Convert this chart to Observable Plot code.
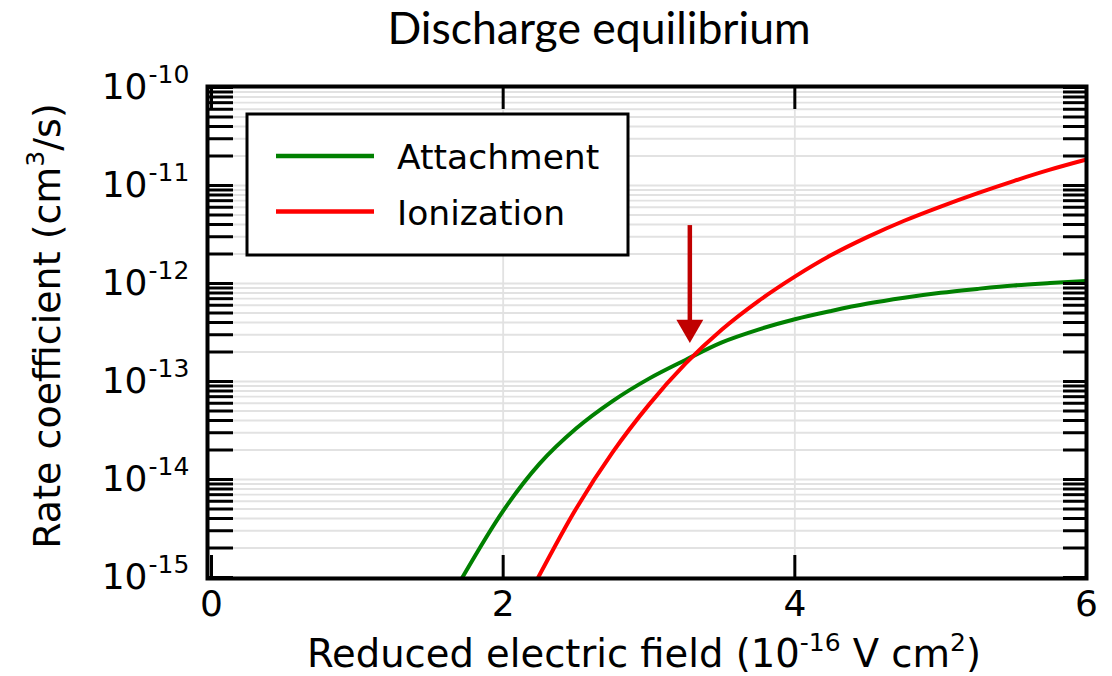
<!DOCTYPE html>
<html>
<head>
<meta charset="utf-8">
<script src="https://cdn.jsdelivr.net/npm/d3@7"></script>
<script src="https://cdn.jsdelivr.net/npm/@observablehq/plot@0.6"></script>
<style>
  html, body { margin: 0; padding: 0; background: #fff; }
  #chart { position: relative; width: 1112px; height: 676px; overflow: hidden; }
  #title {
    position: absolute; left: 0; top: 0; width: 1112px; height: 56px;
    box-sizing: border-box; padding-left: 86px; text-align: center;
    font-family: Lato, "Open Sans", sans-serif; font-size: 44.5px; line-height: 54px; color: #000;
  }
  #plot { position: absolute; left: 0; top: 56px; }
</style>
</head>
<body>
<div id="chart">
  <div id="title">Discharge equilibrium</div>
  <div id="plot"></div>
</div>
<script>
// Rate coefficients (cm^3/s) against reduced electric field (1e-16 V cm^2)
const attachmentField = [1.72, 2.0, 2.25, 2.5, 2.75, 3.0, 3.25, 3.5, 3.75, 4.0, 4.25, 4.5, 4.75, 5.0, 5.25, 5.5, 5.75, 6.0];
const attachmentRate  = [1.0e-15, 4.79e-15, 1.45e-14, 3.31e-14, 6.31e-14, 1.07e-13, 1.66e-13, 2.51e-13, 3.39e-13,
                         4.32e-13, 5.25e-13, 6.24e-13, 7.16e-13, 8.04e-13, 8.81e-13, 9.55e-13, 1.01e-12, 1.06e-12];

const ionizationField = [2.24, 2.5, 2.75, 3.0, 3.25, 3.5, 3.75, 4.0, 4.25, 4.5, 4.75, 5.0, 5.25, 5.5, 5.75, 6.0];
const ionizationRate  = [1.0e-15, 5.04e-15, 1.89e-14, 5.81e-14, 1.52e-13, 3.39e-13, 6.61e-13, 1.175e-12,
                         1.95e-12, 2.99e-12, 4.37e-12, 6.10e-12, 8.32e-12, 1.11e-11, 1.45e-11, 1.84e-11];

const seriesNames  = ["Attachment", "Ionization"];
const seriesColors = ["#008000", "#ff0000"];

// Axis ticks
const xTicks = [0, 2, 4, 6];
const xGridTicks = [2, 4];
const yExponents = [-15, -14, -13, -12, -11, -10];
const yMinorTicks = yExponents.slice(0, -1)
  .flatMap(e => d3.range(1, 10).map(m => +(m + "e" + e)))
  .concat([1e-10]);

// Arrow marking where the two rates are equal
const arrowField = [3.28];
const arrowTop  = [3.9e-12];
const arrowBase = [3.3e-13];
const arrowTip  = [2.5e-13];

const attachment = attachmentField.map((f, i) => ({field: f, rate: attachmentRate[i]}));
const ionization = ionizationField.map((f, i) => ({field: f, rate: ionizationRate[i]}));
const arrow = arrowField.map((f, i) => ({field: f, top: arrowTop[i], base: arrowBase[i], tip: arrowTip[i]}));

const W = 1112, H = 620;
const mL = 211, mR = 26, mT = 31, mB = 99;
const innerW = W - mL - mR, innerH = H - mT - mB;
const tickLen = 22;
const font = "DejaVu Sans";

const plot = Plot.plot({
  width: W, height: H,
  marginLeft: mL, marginRight: mR, marginTop: mT, marginBottom: mB,
  x: {domain: [0, 6], axis: null},
  y: {type: "log", domain: [1e-15, 1e-10], axis: null},
  style: {fontFamily: font, background: "white", color: "black"},
  marks: [
    Plot.gridY(yMinorTicks, {stroke: "#e2e2e2", strokeOpacity: 1, strokeWidth: 1.8}),
    Plot.gridX(xGridTicks, {stroke: "#e2e2e2", strokeOpacity: 1, strokeWidth: 1.8}),
    Plot.line(attachment, {x: "field", y: "rate", stroke: seriesColors[0], strokeWidth: 4, curve: "monotone-x", clip: true}),
    Plot.line(ionization, {x: "field", y: "rate", stroke: seriesColors[1], strokeWidth: 4, curve: "monotone-x", clip: true}),
    // arrow
    Plot.ruleX(arrow, {x: "field", y1: "top", y2: "base", stroke: "#c00000", strokeWidth: 4.5}),
    Plot.dot(arrow, {x: "field", y: "tip", symbol: "triangle", r: 10, rotate: 180, dy: -15, fill: "#c00000", stroke: "none"}),
    // inward ticks, left and right
    Plot.tickY(yMinorTicks, {y: d => d, stroke: "black", strokeWidth: 3, insetLeft: -5, insetRight: innerW - tickLen}),
    Plot.tickY(yMinorTicks, {y: d => d, stroke: "black", strokeWidth: 3, insetLeft: innerW - tickLen - 1}),
    // inward ticks, bottom and top
    Plot.tickX(xTicks, {x: d => d, stroke: "black", strokeWidth: 3, insetTop: innerH - tickLen}),
    Plot.tickX(xTicks, {x: d => d, stroke: "black", strokeWidth: 3, insetBottom: innerH - tickLen}),
    Plot.frame({stroke: "black", strokeWidth: 4, insetLeft: -4, insetTop: -1, insetBottom: -1}),
    // tick labels
    Plot.text(xTicks, {x: d => d, frameAnchor: "bottom", dy: 38, text: d => String(d), fontSize: 36, fill: "black"}),
    Plot.text(yExponents, {y: e => +("1e" + e), frameAnchor: "left", dx: -64, textAnchor: "end", text: () => "10", fontSize: 36, fill: "black"}),
    Plot.text(yExponents, {y: e => +("1e" + e), frameAnchor: "left", dx: -63, dy: -13, textAnchor: "start", text: e => String(e), fontSize: 25, fill: "black"})
  ]
});

document.getElementById("plot").appendChild(plot);

const svg = d3.select(plot);

// axis titles with superscripts
const xLabel = svg.append("text")
  .attr("x", 644).attr("y", 611)
  .attr("text-anchor", "middle")
  .attr("font-family", font).attr("font-size", 38.5).attr("fill", "black");
xLabel.append("tspan").text("Reduced electric field (10");
xLabel.append("tspan").attr("font-size", 25).attr("dy", -16).text("-16");
xLabel.append("tspan").attr("dy", 16).text(" V cm");
xLabel.append("tspan").attr("font-size", 25).attr("dy", -16).text("2");
xLabel.append("tspan").attr("dy", 16).text(")");

const yLabel = svg.append("text")
  .attr("transform", "translate(60,270) rotate(-90)")
  .attr("text-anchor", "middle")
  .attr("font-family", font).attr("font-size", 38).attr("fill", "black");
yLabel.append("tspan").text("Rate coefficient (cm");
yLabel.append("tspan").attr("font-size", 25).attr("dy", -16).text("3");
yLabel.append("tspan").attr("dy", 16).text("/s)");

// legend box
const legend = svg.append("g")
  .attr("font-family", font).attr("font-size", 34.5).attr("text-anchor", "start");
legend.append("rect")
  .attr("x", 247).attr("y", 58).attr("width", 381).attr("height", 141)
  .attr("fill", "white").attr("stroke", "black").attr("stroke-width", 3);
seriesNames.forEach((name, i) => {
  const cy = 100 + i * 55.5;
  legend.append("line")
    .attr("x1", 276).attr("x2", 374).attr("y1", cy).attr("y2", cy)
    .attr("stroke", seriesColors[i]).attr("stroke-width", 4.5);
  legend.append("text")
    .attr("x", 397).attr("y", cy + 13)
    .attr("text-anchor", "start")
    .attr("fill", "black").text(name);
});
</script>
</body>
</html>
